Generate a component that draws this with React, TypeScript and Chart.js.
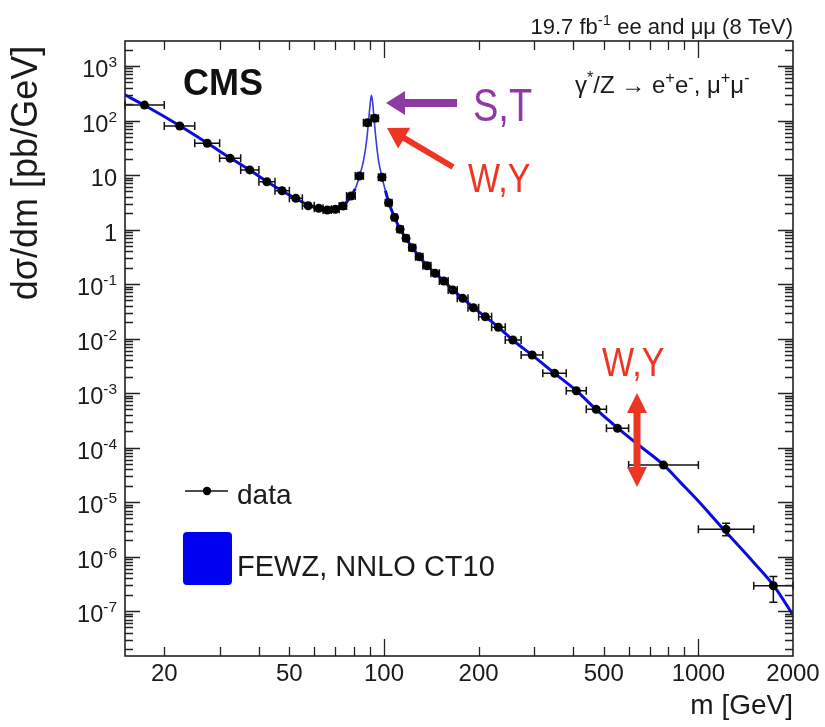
import React, { useEffect, useRef } from "react";
import { Chart, registerables } from "chart.js";

Chart.register(...registerables);

// ---------------- data ----------------
const massEdges = [15, 20, 25, 30, 35, 40, 45, 50, 55, 60, 64, 68, 72, 76, 81, 86, 91, 96, 101, 106, 110, 115, 120, 126, 133, 141, 150, 160, 171, 185, 200, 220, 243, 273, 320, 380, 440, 510, 600, 1000, 1500, 2000];
const dataMass = [17.3, 22.4, 27.4, 32.4, 37.4, 42.4, 47.4, 52.4, 57.4, 62, 66, 70, 74, 78.5, 83.5, 88.5, 93.5, 98.5, 103.5, 108, 112.5, 117.5, 123, 129.5, 137, 145.5, 155, 165.5, 178, 192.5, 210, 231, 257, 296, 349, 409, 473, 553, 775, 1225, 1732];
const dataXsec = [192, 79.2, 38.2, 20.2, 12.4, 7.53, 5.15, 3.73, 2.73, 2.45, 2.28, 2.35, 2.7, 4.12, 9.6, 91, 110, 9.1, 3.1, 1.67, 1.01, 0.69, 0.464, 0.317, 0.217, 0.157, 0.1135, 0.0776, 0.0547, 0.0367, 0.0251, 0.0161, 0.0094, 0.00498, 0.0023, 0.0011, 5.02e-4, 2.25e-4, 4.77e-5, 3.16e-6, 2.91e-7];
const dataErrLow: (number | null)[] = [null, null, null, null, null, null, null, null, null, null, null, null, null, null, null, null, null, null, null, null, null, null, null, null, null, null, null, null, null, null, null, null, null, null, null, null, null, null, null, 2.4e-6, 1.45e-7];
const dataErrHigh: (number | null)[] = [null, null, null, null, null, null, null, null, null, null, null, null, null, null, null, null, null, null, null, null, null, null, null, null, null, null, null, null, null, null, null, null, null, null, null, null, null, null, null, 4.1e-6, 4.3e-7];

const theoryMass = [15, 17.3, 22.4, 27.4, 32.4, 37.4, 42.4, 47.4, 52.4, 57.4, 62, 66, 70, 74, 78, 81, 83.5, 86, 88, 89.5, 90.5, 91.2, 92, 93, 94.5, 96, 98.5, 101, 103.5, 108, 112.5, 117.5, 123, 129.5, 137, 145.5, 155, 165.5, 178, 192.5, 210, 231, 256, 296, 349, 409, 473, 553, 650, 775, 880, 991, 1200, 1500, 1732, 2000];
const theoryXsec = [295, 190, 80, 38.5, 20.5, 12.4, 7.6, 5.1, 3.7, 2.8, 2.42, 2.3, 2.36, 2.72, 3.9, 5.6, 9.4, 18, 42, 110, 220, 290, 215, 105, 40, 19, 9.2, 5.2, 3.15, 1.68, 1.02, 0.69, 0.465, 0.318, 0.218, 0.158, 0.114, 0.078, 0.0548, 0.0368, 0.0252, 0.0162, 0.0095, 0.00495, 0.0023, 0.00111, 5.0e-4, 2.3e-4, 1.08e-4, 4.8e-5, 2.25e-5, 1.1e-5, 3.2e-6, 7.8e-7, 3.0e-7, 8.5e-8];

const xTickValues = [20, 50, 100, 200, 500, 1000, 2000];
const xTickLabels = ["20", "50", "100", "200", "500", "1000", "2000"];
const xMinorTicks = [20, 30, 40, 50, 60, 70, 80, 90, 200, 300, 400, 500, 600, 700, 800, 900];
const xMajorTicks = [100, 1000];

const yTickValues = [1e3, 1e2, 10, 1, 1e-1, 1e-2, 1e-3, 1e-4, 1e-5, 1e-6, 1e-7];
const yTickBase = ["10", "10", "10", "1", "10", "10", "10", "10", "10", "10", "10"];
const yTickExp = ["3", "2", "", "", "-1", "-2", "-3", "-4", "-5", "-6", "-7"];

const X_MIN = 15;
const X_MAX = 2000;
const Y_MIN = 1.5e-8;
const Y_MAX = 2875;

const FONT = '"Liberation Sans", Arial, Helvetica, sans-serif';
const TEXT = "#1a1a1a";
const PURPLE = "#8e3aa2";
const RED = "#ee3524";
const BLUE = "#0b0bdc";

type Part = { t: string; sup?: boolean };

function drawRich(ctx: CanvasRenderingContext2D, parts: Part[], x: number, y: number, size: number, align: "left" | "right", color: string, supRatio = 0.68, riseRatio = 0.42) {
  const supSize = size * supRatio;
  const rise = size * riseRatio;
  ctx.textAlign = "left";
  ctx.textBaseline = "alphabetic";
  ctx.fillStyle = color;
  const widths = parts.map((p) => {
    ctx.font = `${p.sup ? supSize : size}px ${FONT}`;
    return ctx.measureText(p.t).width;
  });
  const total = widths.reduce((a, b) => a + b, 0);
  let cx = align === "right" ? x - total : x;
  parts.forEach((p, i) => {
    ctx.font = `${p.sup ? supSize : size}px ${FONT}`;
    ctx.fillText(p.t, cx, p.sup ? y - rise : y);
    cx += widths[i];
  });
}

function arrow(ctx: CanvasRenderingContext2D, x1: number, y1: number, x2: number, y2: number, shaft: number, headLen: number, headW: number, color: string) {
  const ang = Math.atan2(y2 - y1, x2 - x1);
  const len = Math.hypot(x2 - x1, y2 - y1);
  ctx.save();
  ctx.translate(x1, y1);
  ctx.rotate(ang);
  ctx.fillStyle = color;
  ctx.beginPath();
  ctx.moveTo(0, -shaft / 2);
  ctx.lineTo(len - headLen, -shaft / 2);
  ctx.lineTo(len - headLen, -headW / 2);
  ctx.lineTo(len, 0);
  ctx.lineTo(len - headLen, headW / 2);
  ctx.lineTo(len - headLen, shaft / 2);
  ctx.lineTo(0, shaft / 2);
  ctx.closePath();
  ctx.fill();
  ctx.restore();
}

function doubleArrow(ctx: CanvasRenderingContext2D, x: number, yTop: number, yBot: number, shaft: number, headLen: number, headW: number, color: string) {
  ctx.fillStyle = color;
  ctx.beginPath();
  ctx.moveTo(x, yTop);
  ctx.lineTo(x + headW / 2, yTop + headLen);
  ctx.lineTo(x + shaft / 2, yTop + headLen);
  ctx.lineTo(x + shaft / 2, yBot - headLen);
  ctx.lineTo(x + headW / 2, yBot - headLen);
  ctx.lineTo(x, yBot);
  ctx.lineTo(x - headW / 2, yBot - headLen);
  ctx.lineTo(x - shaft / 2, yBot - headLen);
  ctx.lineTo(x - shaft / 2, yTop + headLen);
  ctx.lineTo(x - headW / 2, yTop + headLen);
  ctx.closePath();
  ctx.fill();
}

function stretchedText(ctx: CanvasRenderingContext2D, s: string, x: number, y: number, size: number, sy: number, color: string) {
  ctx.save();
  ctx.translate(x, y);
  ctx.scale(1, sy);
  ctx.font = `${size}px ${FONT}`;
  ctx.fillStyle = color;
  ctx.textAlign = "left";
  ctx.textBaseline = "alphabetic";
  ctx.fillText(s, 0, 0);
  ctx.restore();
}

const rootStyle = {
  id: "rootStyle",
  beforeDatasetDraw(chart: any, args: any) {
    if (args.index !== 1) return;
    const ctx: CanvasRenderingContext2D = chart.ctx;
    const xs = chart.scales.x;
    const ys = chart.scales.y;
    ctx.save();
    ctx.strokeStyle = "#111";
    ctx.lineWidth = 1.5;
    const cap = 4;
    dataXsec.forEach((v, i) => {
      const x0 = xs.getPixelForValue(massEdges[i]);
      const x1 = xs.getPixelForValue(massEdges[i + 1]);
      const xc = xs.getPixelForValue(dataMass[i]);
      const y = ys.getPixelForValue(v);
      ctx.beginPath();
      ctx.moveTo(x0, y);
      ctx.lineTo(x1, y);
      ctx.moveTo(x0, y - cap);
      ctx.lineTo(x0, y + cap);
      ctx.moveTo(x1, y - cap);
      ctx.lineTo(x1, y + cap);
      const lo = dataErrLow[i];
      const hi = dataErrHigh[i];
      if (lo != null && hi != null) {
        const yl = ys.getPixelForValue(lo);
        const yh = ys.getPixelForValue(hi);
        ctx.moveTo(xc, yl);
        ctx.lineTo(xc, yh);
        ctx.moveTo(xc - cap, yl);
        ctx.lineTo(xc + cap, yl);
        ctx.moveTo(xc - cap, yh);
        ctx.lineTo(xc + cap, yh);
      }
      ctx.stroke();
    });
    ctx.restore();
  },
  afterDraw(chart: any) {
    const ctx: CanvasRenderingContext2D = chart.ctx;
    const xs = chart.scales.x;
    const ys = chart.scales.y;
    const { left, right, top, bottom } = chart.chartArea;
    ctx.save();

    // ticks
    ctx.strokeStyle = "#222";
    ctx.lineWidth = 1.3;
    ctx.beginPath();
    xMinorTicks.forEach((v) => {
      const px = Math.round(xs.getPixelForValue(v)) + 0.5;
      ctx.moveTo(px, bottom); ctx.lineTo(px, bottom - 9);
      ctx.moveTo(px, top); ctx.lineTo(px, top + 9);
    });
    xMajorTicks.forEach((v) => {
      const px = Math.round(xs.getPixelForValue(v)) + 0.5;
      ctx.moveTo(px, bottom); ctx.lineTo(px, bottom - 17);
      ctx.moveTo(px, top); ctx.lineTo(px, top + 17);
    });
    for (let d = -8; d <= 3; d++) {
      for (let m = 1; m <= 9; m++) {
        const v = m * Math.pow(10, d);
        if (v < Y_MIN || v > Y_MAX) continue;
        const py = Math.round(ys.getPixelForValue(v)) + 0.5;
        const len = m === 1 ? 15 : 8;
        ctx.moveTo(left, py); ctx.lineTo(left + len, py);
        ctx.moveTo(right, py); ctx.lineTo(right - len, py);
      }
    }
    ctx.stroke();

    // frame
    ctx.lineWidth = 1.6;
    ctx.strokeStyle = "#222";
    ctx.strokeRect(left, top, right - left, bottom - top);

    // x tick labels
    ctx.fillStyle = TEXT;
    ctx.font = `24px ${FONT}`;
    ctx.textAlign = "center";
    ctx.textBaseline = "alphabetic";
    xTickValues.forEach((v, i) => {
      ctx.fillText(xTickLabels[i], xs.getPixelForValue(v), 681);
    });

    // y tick labels
    yTickValues.forEach((v, i) => {
      const py = ys.getPixelForValue(v);
      const parts: Part[] = [{ t: yTickBase[i] }];
      if (yTickExp[i]) parts.push({ t: yTickExp[i], sup: true });
      drawRich(ctx, parts, 117, py + 11, 23.5, "right", TEXT, 0.66, 0.42);
    });

    // axis titles
    ctx.save();
    ctx.translate(37, 173);
    ctx.rotate(-Math.PI / 2);
    ctx.font = `36px ${FONT}`;
    ctx.fillStyle = TEXT;
    ctx.textAlign = "center";
    ctx.textBaseline = "alphabetic";
    ctx.fillText("d\u03c3/dm [pb/GeV]", 0, 0);
    ctx.restore();

    ctx.font = `28px ${FONT}`;
    ctx.fillStyle = TEXT;
    ctx.textAlign = "right";
    ctx.fillText("m [GeV]", right, 714);

    // header
    drawRich(ctx, [{ t: "19.7 fb" }, { t: "-1", sup: true }, { t: " ee and \u03bc\u03bc (8 TeV)" }], right, 34, 22, "right", TEXT);

    // CMS
    ctx.font = `bold 36px ${FONT}`;
    ctx.fillStyle = "#111";
    ctx.textAlign = "left";
    ctx.fillText("CMS", 183, 95);

    // process label
    drawRich(ctx, [
      { t: "\u03b3" }, { t: "*", sup: true }, { t: "/Z \u2192 e" }, { t: "+", sup: true }, { t: "e" }, { t: "-", sup: true },
      { t: ", \u03bc" }, { t: "+", sup: true }, { t: "\u03bc" }, { t: "-", sup: true },
    ], 575, 93, 24, "left", TEXT);

    // legend
    ctx.strokeStyle = "#111";
    ctx.lineWidth = 1.6;
    ctx.beginPath();
    ctx.moveTo(185, 491);
    ctx.lineTo(228, 491);
    ctx.stroke();
    ctx.fillStyle = "#000";
    ctx.beginPath();
    ctx.arc(207, 491, 4.2, 0, Math.PI * 2);
    ctx.fill();
    ctx.font = `28px ${FONT}`;
    ctx.fillStyle = TEXT;
    ctx.textAlign = "left";
    ctx.fillText("data", 237, 504);

    ctx.fillStyle = "#0000f0";
    ctx.beginPath();
    const rx = 183, ry = 532, rw = 49, rh = 53, rr = 4;
    ctx.moveTo(rx + rr, ry);
    ctx.arcTo(rx + rw, ry, rx + rw, ry + rh, rr);
    ctx.arcTo(rx + rw, ry + rh, rx, ry + rh, rr);
    ctx.arcTo(rx, ry + rh, rx, ry, rr);
    ctx.arcTo(rx, ry, rx + rw, ry, rr);
    ctx.closePath();
    ctx.fill();
    ctx.font = `29px ${FONT}`;
    ctx.fillStyle = TEXT;
    ctx.fillText("FEWZ, NNLO CT10", 237, 576);

    // annotations
    arrow(ctx, 457, 103, 386, 103, 8, 19, 24, PURPLE);
    stretchedText(ctx, "S,T", 473, 121, 38, 1.2, PURPLE);
    arrow(ctx, 453, 167, 387, 128, 6, 20, 24, RED);
    stretchedText(ctx, "W,Y", 468, 192, 34, 1.22, RED);
    doubleArrow(ctx, 637, 393, 487, 7, 20, 20, RED);
    stretchedText(ctx, "W,Y", 602, 376, 34, 1.22, RED);

    ctx.restore();
  },
};

export default function App() {
  const ref = useRef<HTMLCanvasElement>(null);
  useEffect(() => {
    const canvas = ref.current;
    if (!canvas) return;
    const chart = new Chart(canvas, {
      type: "line",
      data: {
        datasets: [
          {
            label: "FEWZ, NNLO CT10",
            data: theoryMass.map((m, i) => ({ x: m, y: theoryXsec[i] })),
            borderColor: BLUE,
            borderWidth: 3,
            pointRadius: 0,
            fill: false,
            cubicInterpolationMode: "monotone",
            order: 2,
            segment: {
              borderWidth: (c: any) => (c.p0.parsed.x >= 80 && c.p1.parsed.x <= 102 ? 1.6 : 3),
              borderColor: (c: any) => (c.p0.parsed.x >= 80 && c.p1.parsed.x <= 102 ? "#3b3bd8" : BLUE),
            },
          } as any,
          {
            label: "data",
            data: dataMass.map((m, i) => ({ x: m, y: dataXsec[i] })),
            showLine: false,
            pointRadius: 4.5,
            pointBackgroundColor: "#000",
            pointBorderColor: "#000",
            pointBorderWidth: 0,
            order: 1,
          } as any,
        ],
      },
      options: {
        animation: false,
        responsive: false,
        devicePixelRatio: 1,
        events: [],
        layout: { padding: { left: 125, right: 32, top: 41, bottom: 71 } },
        scales: {
          x: { type: "logarithmic", min: X_MIN, max: X_MAX, display: false },
          y: { type: "logarithmic", min: Y_MIN, max: Y_MAX, display: false },
        },
        plugins: { legend: { display: false }, tooltip: { enabled: false } },
      } as any,
      plugins: [rootStyle as any],
    });
    return () => chart.destroy();
  }, []);
  return (
    <div style={{ position: "absolute", left: 0, top: 0, width: 825, height: 727, background: "#fff" }}>
      <canvas ref={ref} width={825} height={727} style={{ display: "block" }} />
    </div>
  );
}
